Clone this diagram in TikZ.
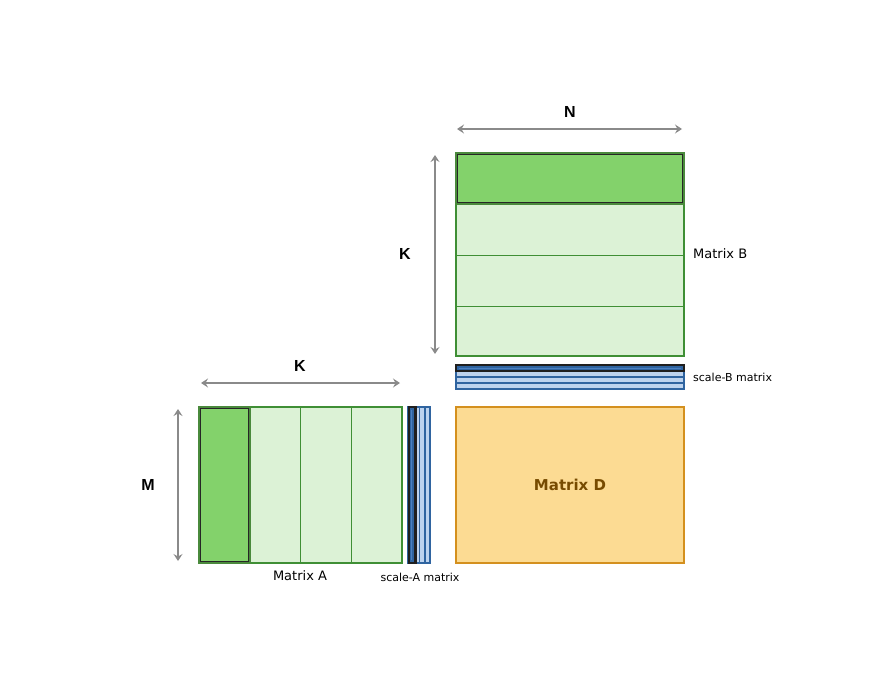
\documentclass[tikz,border=0pt]{standalone}
\usepackage{fontspec}
\setmainfont{DejaVu Sans}
\newfontfamily\labfont{Liberation Sans}
\usetikzlibrary{arrows.meta}
\definecolor{lg}{HTML}{DCF2D6}
\definecolor{gb}{HTML}{3F8F35}
\definecolor{hg}{HTML}{83D26B}
\definecolor{hgb}{HTML}{4A8A3C}
\definecolor{lb}{HTML}{BDD3EE}
\definecolor{bb}{HTML}{2F64A0}
\definecolor{mb}{HTML}{4A80C2}
\definecolor{dy}{HTML}{FCDB93}
\definecolor{db}{HTML}{D4901E}
\definecolor{dt}{HTML}{774B00}
\definecolor{ag}{HTML}{8A8A8A}
\begin{document}
\begin{tikzpicture}[x=1pt,y=-1pt,
  box/.style={draw, rectangle, inner sep=0pt, outer sep=0pt, anchor=north west},
  mat/.style={box, fill=lg, draw=gb, line width=1.6pt},
  hlbox/.style={box, fill=hg, draw=hgb, line width=2.6pt},
  sbox/.style={box, fill=lb, draw=bb, line width=1.1pt},
  dmat/.style={box, fill=dy, draw=db, line width=1.8pt},
  grid/.style={gb, line width=0.9pt},
  sgrid/.style={bb, line width=1.1pt},
  dimarrow/.style={draw=ag, line width=2.2pt, {Stealth[length=7pt,width=9pt,inset=2.5pt]}-{Stealth[length=7pt,width=9pt,inset=2.5pt]}},
  dimlabel/.style={font=\labfont\bfseries\fontsize{16}{18}\selectfont, inner sep=0pt},
  mlabel/.style={font=\fontsize{13}{15}\selectfont, inner sep=0pt},
  slabel/.style={font=\fontsize{11}{13}\selectfont, inner sep=0pt}
]
\useasboundingbox (0,0) rectangle (890,700);

% Matrix B
\node[mat, minimum width=228, minimum height=203] (B) at (456,153) {};
\draw[grid] (456,255) -- (684,255);
\draw[grid] (456,306) -- (684,306);
\draw[grid] (456,204) -- (684,204);
\node[hlbox, minimum width=228, minimum height=51] (B1) at (456,153) {};
\draw[black!85, line width=1.2pt] ([shift={(1.6,1.6)}]B1.north west) rectangle ([shift={(-1.2,-1.2)}]B1.south east);
\node[mlabel, anchor=west] (Blab) at (693,254) {Matrix B};

% scale-B
\node[sbox, minimum width=228, minimum height=24] (SB) at (456,365) {};
\draw[sgrid] (456,371) -- (684,371);
\draw[sgrid] (456,377) -- (684,377);
\draw[sgrid] (456,383) -- (684,383);
\fill[black!88] (455,364) rectangle (685,372);
\draw[sgrid, fill=mb] (458,367) rectangle (682,369.5);
\node[slabel, anchor=west] (SBlab) at (693,377) {scale-B matrix};

% Matrix A
\node[mat, minimum width=203, minimum height=156] (A) at (199,407) {};
\draw[grid] (300,407) -- (300,563);
\draw[grid] (351,407) -- (351,563);
\node[hlbox, minimum width=51, minimum height=156] (A1) at (199,407) {};
\draw[black!85, line width=1.2pt] ([shift={(1.6,1.6)}]A1.north west) rectangle ([shift={(-1.2,-1.2)}]A1.south east);
\node[mlabel] (Alab) at (300,576) {Matrix A};

% scale-A
\node[sbox, minimum width=22, minimum height=156] (SA) at (408,407) {};
\draw[sgrid] (414,407) -- (414,563);
\draw[sgrid] (419.5,407) -- (419.5,563);
\draw[sgrid] (425,407) -- (425,563);
\fill[black!88] (407.5,406) rectangle (416.5,564);
\draw[sgrid, fill=mb] (410.5,409) rectangle (413,561);
\node[slabel] (SAlab) at (420,577) {scale-A matrix};

% Matrix D
\node[dmat, minimum width=228, minimum height=156] (D) at (456,407) {};
\node[font=\bfseries\fontsize{15}{17}\selectfont, text=dt, inner sep=0pt] (Dlab) at (D.center) {Matrix D};

% dimension arrows
\coordinate (N1) at (457,129);
\coordinate (N2) at (682,129);
\draw[dimarrow] (N1) -- (N2);
\node[dimlabel] (Nlab) at (570,112) {N};

\coordinate (KB1) at (435,155);
\coordinate (KB2) at (435,354);
\draw[dimarrow] (KB1) -- (KB2);
\node[dimlabel] (KBlab) at (405,254) {K};

\coordinate (KA1) at (201,383);
\coordinate (KA2) at (400,383);
\draw[dimarrow] (KA1) -- (KA2);
\node[dimlabel] (KAlab) at (300,366) {K};

\coordinate (M1) at (178,409);
\coordinate (M2) at (178,561);
\draw[dimarrow] (M1) -- (M2);
\node[dimlabel] (Mlab) at (148,485) {M};
\end{tikzpicture}
\end{document}
